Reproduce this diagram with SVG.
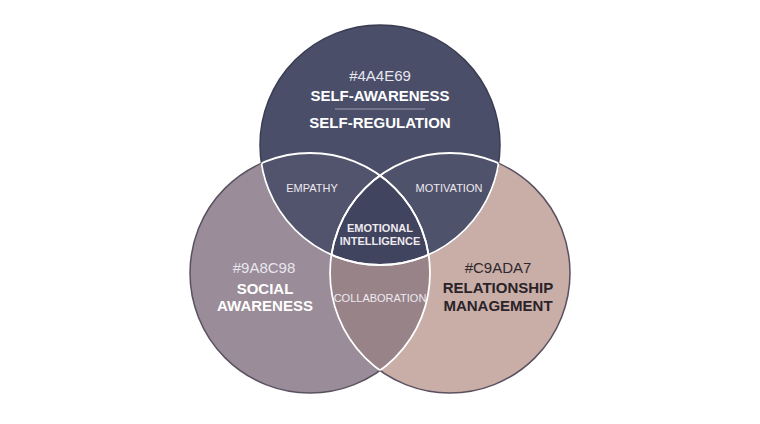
<svg xmlns="http://www.w3.org/2000/svg" width="760" height="424" viewBox="0 0 760 424">
<style>
text{font-family:"Liberation Sans",Arial,sans-serif;text-anchor:middle}
.h{font-size:15px;fill:#e8e6ee}
.b{font-size:15px;font-weight:bold;fill:#ffffff}
.s{font-size:11px;fill:#eeeaf0}
.d{font-size:15px;font-weight:bold;fill:#2a2328}
.dh{font-size:15px;fill:#2e282c}
.w{fill:none;stroke:#ffffff;stroke-width:1.8}
</style>
<defs>
<clipPath id="cT"><circle cx="380" cy="145" r="120"/></clipPath>
<clipPath id="cL"><circle cx="310" cy="273" r="120"/></clipPath>
<clipPath id="cR"><circle cx="450" cy="273" r="120"/></clipPath>
</defs>
<rect width="760" height="424" fill="#ffffff"/>
<g id="social">
<circle cx="310" cy="273" r="120" fill="#9A8C98" stroke="#5a5260" stroke-width="1.5"/>
</g>
<g id="relationship">
<circle cx="450" cy="273" r="120" fill="#C9ADA7" stroke="#5a5060" stroke-width="1.5"/>
</g>
<g id="collaboration">
<g clip-path="url(#cL)"><circle cx="450" cy="273" r="120" fill="#988389"/></g>
</g>
<g id="self">
<circle cx="380" cy="145" r="120" fill="#4A4E69" stroke="#3a3d52" stroke-width="1.5"/>
</g>
<g id="empathy"><g clip-path="url(#cT)"><circle cx="310" cy="273" r="120" fill="#52546d"/></g></g>
<g id="motivation"><g clip-path="url(#cT)"><circle cx="450" cy="273" r="120" fill="#4f526b"/></g></g>
<g id="center"><g clip-path="url(#cT)"><g clip-path="url(#cL)"><circle cx="450" cy="273" r="120" fill="#40445e"/></g></g></g>
<g id="connectors">
<g clip-path="url(#cT)"><circle cx="310" cy="273" r="120" class="w"/><circle cx="450" cy="273" r="120" class="w"/></g>
<g clip-path="url(#cL)"><circle cx="380" cy="145" r="120" class="w"/><circle cx="450" cy="273" r="120" class="w"/></g>
<g clip-path="url(#cR)"><circle cx="380" cy="145" r="120" class="w"/><circle cx="310" cy="273" r="120" class="w"/></g>
<line x1="335" y1="109" x2="425" y2="109" stroke="#9a9cb0" stroke-width="1"/>
</g>
<text x="380" y="81" class="h">#4A4E69</text>
<text x="380" y="101" class="b">SELF-AWARENESS</text>
<text x="380" y="128" class="b">SELF-REGULATION</text>
<text x="312" y="192" class="s">EMPATHY</text>
<text x="449" y="192" class="s">MOTIVATION</text>
<text x="380" y="232" class="s" font-weight="bold">EMOTIONAL</text>
<text x="380" y="245" class="s" font-weight="bold">INTELLIGENCE</text>
<text x="264" y="273" class="h">#9A8C98</text>
<text x="265" y="294" class="b">SOCIAL</text>
<text x="265" y="311" class="b">AWARENESS</text>
<text x="380" y="302" class="s" font-size="10.5">COLLABORATION</text>
<text x="498" y="273" class="dh">#C9ADA7</text>
<text x="498" y="293" class="d">RELATIONSHIP</text>
<text x="498" y="311" class="d">MANAGEMENT</text>
</svg>
